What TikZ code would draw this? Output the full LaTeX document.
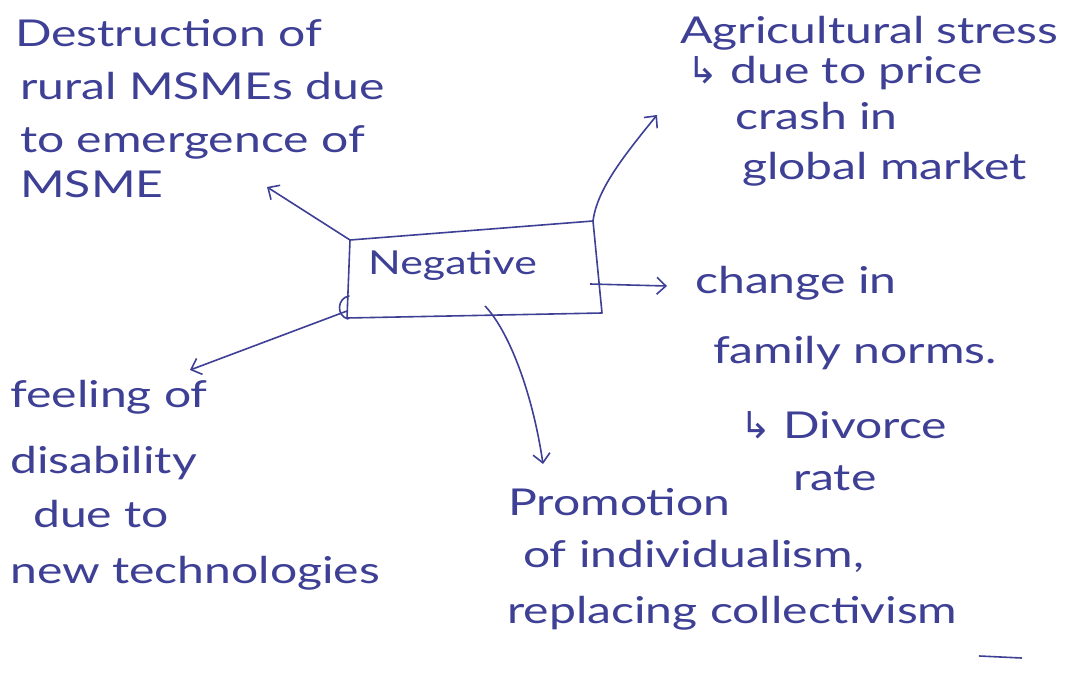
\documentclass[tikz,border=0pt]{standalone}
\usepackage{fontspec}
\setmainfont{Lato}[FakeStretch=1.3]
\newfontfamily\arrowfont{DejaVu Sans}
\usetikzlibrary{arrows.meta}
\definecolor{ink}{RGB}{62,64,150}
\newcommand{\hookarrow}{{\arrowfont ↳}}
\begin{document}
\begin{tikzpicture}[x=1pt,y=-1pt,
  line/.style={anchor=base west, inner sep=0pt, text=ink,
               font=\fontsize{37}{44}\selectfont},
  link/.style={-{Straight Barb[length=9pt,width=17pt]}, draw=ink, line width=1.6pt},
  frame/.style={draw=ink, line width=1.6pt, line join=round, line cap=round}]
\useasboundingbox[fill=white] (0,0) rectangle (1078,679);

% central box, drawn freehand as a slightly skewed quadrilateral
\coordinate (b1) at (350,240);
\coordinate (b2) at (593,221);
\coordinate (b3) at (602,313);
\coordinate (b4) at (347,318);
\draw[frame] (b1) -- (b2) -- (b3) -- (b4) -- cycle;
\node[line, font=\fontsize{33}{40}\selectfont] (neg) at (368,274) {Negative};
% small curl at the lower left corner of the box
\draw[frame] (349,296) .. controls (337,298) and (336,316) .. (348,319);

% top left
\node[line] (d1) at (15,47)  {Destruction of};
\node[line] (d2) at (20,100) {rural MSMEs due};
\node[line] (d3) at (20,153) {to emergence of};
\node[line] (d4) at (20,197) {MSME};

% top right
\node[line] (a1) at (680,44)  {Agricultural stress};
\node[line] (a2) at (687,84)  {\hookarrow\ due to price};
\node[line] (a3) at (735,130) {crash in};
\node[line] (a4) at (742,180) {global market};

% right
\node[line] (f1) at (695,293) {change in};
\node[line] (f2) at (713,363) {family norms.};
\node[line] (f3) at (740,438) {\hookarrow\ Divorce};
\node[line] (f4) at (793,490) {rate};

% lower left
\node[line] (t1) at (10,407) {feeling of};
\node[line] (t2) at (10,473) {disability};
\node[line] (t3) at (33,527) {due to};
\node[line] (t4) at (10,583) {new technologies};

% bottom
\node[line] (p1) at (508,515) {Promotion};
\node[line] (p2) at (523,567) {of individualism,};
\node[line] (p3) at (507,623) {replacing collectivism};
\draw[frame] ([shift={(22,33)}]p3.base east) -- +(42,2);

% connector end points
\coordinate (e1) at (267,187);
\coordinate (e2) at (657,115);
\coordinate (s3) at (590,284);
\coordinate (e3) at (667,286);
\coordinate (s4) at (347,311);
\coordinate (e4) at (190,370);
\coordinate (s5) at (485,306);
\coordinate (e5) at (543,464);

\draw[link] (b1) -- (e1);
\draw[link] (b2) .. controls (597,190) and (622,158) .. (e2);
\draw[link] (s3) -- (e3);
\draw[link] (s4) -- (e4);
\draw[link] (s5) .. controls (508,330) and (532,390) .. (e5);
\end{tikzpicture}
\end{document}
